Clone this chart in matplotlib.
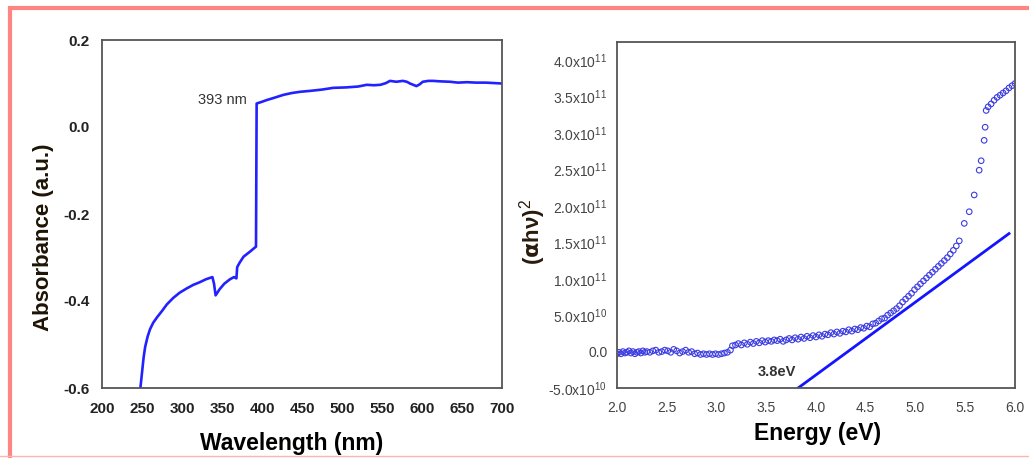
import numpy as np
import matplotlib
matplotlib.use('Agg')
import matplotlib.pyplot as plt
from matplotlib.patches import Rectangle

plt.rcParams['font.family'] = ['Liberation Sans', 'DejaVu Sans']
plt.rcParams['mathtext.fontset'] = 'custom'
plt.rcParams['mathtext.rm'] = 'Liberation Sans'

#==============================
#   DATA: absorbance spectrum
#==============================
wavelength = [248, 250, 252, 254, 257, 260, 264, 269, 275, 281, 289, 297, 306, 314,
              322, 330, 338, 340, 342, 347, 353, 360, 365, 368, 369, 372, 377, 384,
              392.5, 393.3, 400, 406, 415, 427, 437, 448, 460, 475, 489, 505, 520,
              531, 540, 548, 555, 560, 568, 576, 581, 585, 589, 593, 597, 601, 608,
              614, 622, 635, 645, 656, 668, 680, 690, 700]
absorbance = [-0.600, -0.565, -0.530, -0.505, -0.482, -0.465, -0.450, -0.437, -0.423,
              -0.408, -0.393, -0.381, -0.371, -0.363, -0.357, -0.350, -0.345, -0.360,
              -0.387, -0.373, -0.360, -0.350, -0.345, -0.348, -0.322, -0.312, -0.298,
              -0.288, -0.275, 0.054, 0.058, 0.062, 0.067, 0.074, 0.078, 0.081, 0.083,
              0.086, 0.090, 0.091, 0.093, 0.097, 0.096, 0.097, 0.101, 0.106, 0.104,
              0.106, 0.104, 0.100, 0.097, 0.094, 0.098, 0.104, 0.106, 0.106, 0.105,
              0.104, 0.102, 0.103, 0.102, 0.102, 0.101, 0.100]

#==============================
#   DATA: Tauc plot (units of 1e10)
#==============================
energy = [2.00, 2.02, 2.04, 2.06, 2.08, 2.10, 2.12, 2.14, 2.16, 2.18, 2.20, 2.22, 2.24,
          2.26, 2.28, 2.30, 2.33, 2.36, 2.39, 2.42, 2.45, 2.48, 2.51, 2.54, 2.57, 2.60,
          2.63, 2.66, 2.69, 2.72, 2.75, 2.78, 2.81, 2.84, 2.87, 2.90, 2.93, 2.96, 2.99,
          3.02, 3.05, 3.08, 3.11, 3.14,
          3.16, 3.19, 3.22, 3.25, 3.28, 3.31, 3.34, 3.37, 3.40, 3.43, 3.46, 3.49, 3.52,
          3.55, 3.58, 3.61, 3.64, 3.67, 3.70, 3.73, 3.76, 3.79, 3.82, 3.85, 3.88, 3.91,
          3.94, 3.97, 4.00, 4.03, 4.06, 4.09, 4.12, 4.15, 4.18, 4.21, 4.24, 4.27, 4.30,
          4.33, 4.36, 4.39, 4.42, 4.45, 4.48, 4.51, 4.54, 4.57, 4.60,
          4.63, 4.66, 4.69, 4.72, 4.75, 4.78, 4.81, 4.84, 4.87, 4.90, 4.93, 4.96, 4.99,
          5.02, 5.05, 5.08, 5.11, 5.14, 5.17, 5.20, 5.23, 5.26, 5.29, 5.32, 5.35, 5.38,
          5.41, 5.44,
          5.49, 5.54, 5.59, 5.64, 5.66, 5.69, 5.70, 5.71, 5.73, 5.76, 5.79, 5.82, 5.85,
          5.88, 5.91, 5.94, 5.97, 6.00]
ahv2 = [-0.3, -0.1, -0.3, 0.0, -0.2, -0.1, 0.1, -0.2, 0.0, -0.3, -0.1, 0.0, -0.2,
        0.1, -0.1, 0.0, -0.1, 0.1, 0.2, -0.1, 0.0, 0.2, 0.1, -0.1, 0.3, 0.1,
        -0.2, 0.0, 0.2, -0.1, 0.0, -0.3, -0.2, -0.4, -0.3, -0.4, -0.3, -0.4, -0.3,
        -0.4, -0.3, -0.2, -0.1, 0.2,
        0.8, 0.9, 1.1, 0.9, 1.2, 1.0, 1.3, 1.1, 1.4, 1.2, 1.5, 1.3, 1.5,
        1.4, 1.6, 1.5, 1.7, 1.4, 1.6, 1.8, 1.6, 1.9, 1.7, 2.0, 1.8, 2.1,
        1.9, 2.2, 2.0, 2.3, 2.1, 2.4, 2.3, 2.6, 2.4, 2.7, 2.5, 2.8, 2.7,
        3.0, 2.8, 3.1, 3.0, 3.3, 3.2, 3.5, 3.4, 3.8, 3.9,
        4.2, 4.5, 4.6, 5.0, 5.3, 5.6, 5.9, 6.3, 6.8, 7.2, 7.6, 8.0, 8.5,
        8.9, 9.3, 9.7, 10.1, 10.5, 10.9, 11.3, 11.7, 12.1, 12.5, 12.9, 13.4, 13.9,
        14.5, 15.2,
        17.6, 19.2, 21.5, 24.9, 26.2, 29.0, 30.8, 33.1, 33.6, 34.0, 34.5, 34.9, 35.2,
        35.5, 35.8, 36.2, 36.5, 36.8]

# tangent line used for the band gap
fit_energy = [3.82, 5.94]
fit_ahv2 = [-5.0, 16.2]

wl_ticks = [200, 250, 300, 350, 400, 450, 500, 550, 600, 650, 700]
abs_ticks = [-0.6, -0.4, -0.2, 0.0, 0.2]
e_ticks = [2.0, 2.5, 3.0, 3.5, 4.0, 4.5, 5.0, 5.5, 6.0]
t_ticks = [-5, 0, 5, 10, 15, 20, 25, 30, 35, 40]
t_labels = [r'-5.0x10$^{10}$', '0.0', r'5.0x10$^{10}$', r'1.0x10$^{11}$', r'1.5x10$^{11}$',
            r'2.0x10$^{11}$', r'2.5x10$^{11}$', r'3.0x10$^{11}$', r'3.5x10$^{11}$',
            r'4.0x10$^{11}$']

fig = plt.figure(figsize=(10.29, 4.58), dpi=100)

# pink frame round the picture
fig.add_artist(Rectangle((9.5/1029, -0.02), 1.2, 1 - 8/458 + 0.02, transform=fig.transFigure,
                         fill=False, edgecolor='#ff8585', linewidth=3))
fig.add_artist(plt.Line2D([0, 1], [2.5/458, 2.5/458], transform=fig.transFigure,
                          color='#ffb3b3', linewidth=1))

#==============================
#   LEFT: absorbance
#==============================
ax1 = fig.add_axes([102/1029, 1 - 388/458, 400/1029, 348/458])
ax1.plot(wavelength, absorbance, color='#2222ff', lw=1.9)
ax1.set_xlim(200, 700)
ax1.set_ylim(-0.6, 0.2)
ax1.set_xticks(wl_ticks)
ax1.set_yticks(abs_ticks)
ax1.set_yticklabels(['%.1f' % v for v in abs_ticks])
ax1.tick_params(length=0, labelsize=11, colors='#222222')
ax1.tick_params(axis='x', pad=10)
ax1.tick_params(axis='y', pad=9)
for lab in ax1.get_xticklabels() + ax1.get_yticklabels():
    lab.set_fontweight('bold')
for sp in ax1.spines.values():
    sp.set_color('#555555')
    sp.set_linewidth(1.3)
ax1.set_xlabel('Wavelength (nm)', fontsize=16.5, fontweight='bold')
ax1.xaxis.set_label_coords(0.474, -0.126)
ax1.set_ylabel('Absorbance (a.u.)', fontsize=16, fontweight='bold', color='#1e1405')
ax1.yaxis.set_label_coords(-0.12, 0.434)
ax1.text(381, 0.062, '393 nm', fontsize=10.5, color='#333333', ha='right', va='center')

#==============================
#   RIGHT: Tauc plot
#==============================
ax2 = fig.add_axes([617/1029, 1 - 388/458, 398/1029, 346/458])
ax2.scatter(energy, ahv2, s=16, facecolors='none', edgecolors='#3c3ce0', linewidths=0.8)
ax2.plot(fit_energy, fit_ahv2, color='#1414ff', lw=2)
ax2.set_xlim(2.0, 6.0)
ax2.set_ylim(-5, 42.5)
ax2.set_xticks(e_ticks)
ax2.set_xticklabels(['%.1f' % v for v in e_ticks])
ax2.set_yticks(t_ticks)
ax2.set_yticklabels(t_labels)
ax2.tick_params(length=0, labelsize=10, colors='#444444')
ax2.tick_params(axis='x', pad=9)
ax2.tick_params(axis='y', pad=7)
for sp in ax2.spines.values():
    sp.set_color('#555555')
    sp.set_linewidth(1.3)
ax2.set_xlabel('Energy (eV)', fontsize=16.5, fontweight='bold')
ax2.xaxis.set_label_coords(0.505, -0.098)
ax2.set_ylabel(r'($\mathbf{\alpha}$hν)$^2$', fontsize=16, fontweight='bold', color='#2a1a0a')
ax2.yaxis.set_label_coords(-0.173, 0.451)
ax2.text(3.61, -2.8, '3.8eV', fontsize=10.5, fontweight='bold', color='#333333',
         ha='center', va='center')

fig.savefig('out.png', dpi=100)
